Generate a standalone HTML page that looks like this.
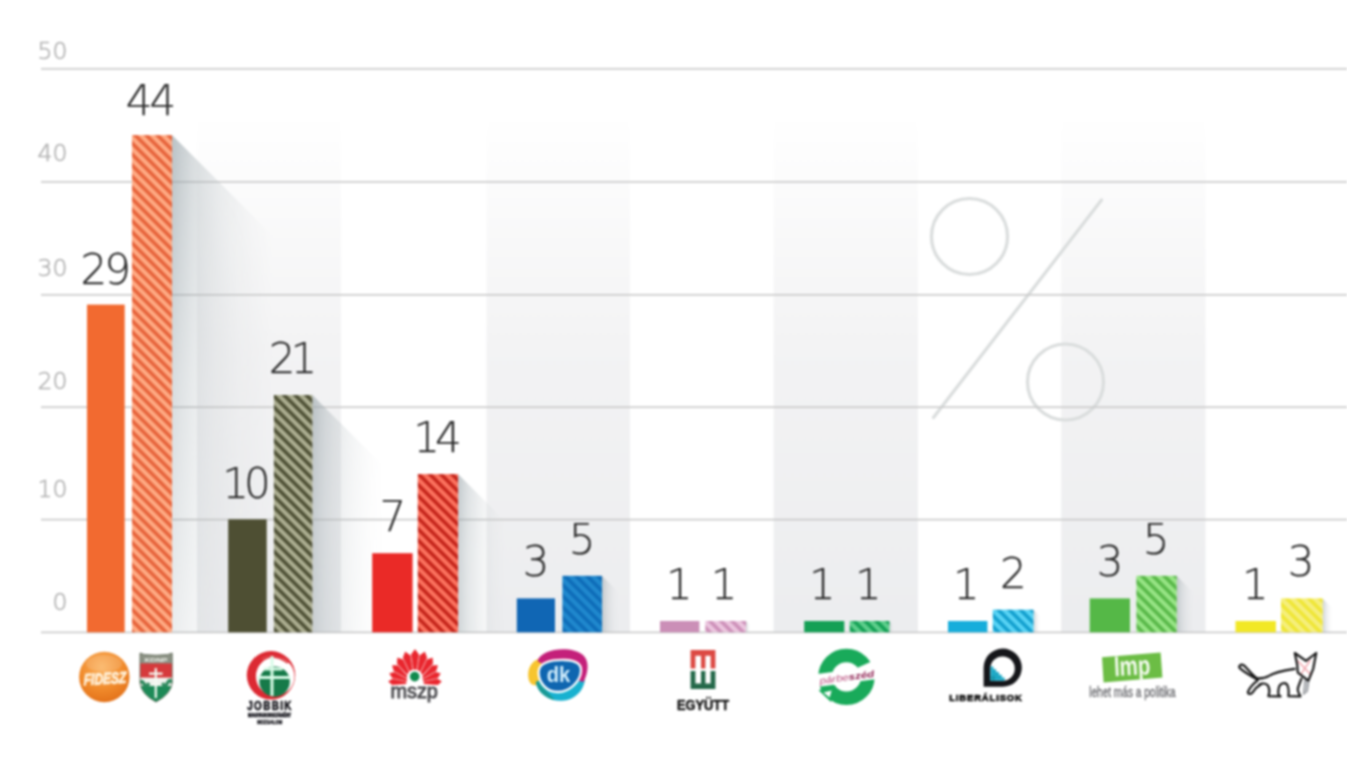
<!DOCTYPE html>
<html lang="hu"><head><meta charset="utf-8"><title>Pártok támogatottsága</title>
<style>
html,body{margin:0;padding:0;background:#fff;}
body{width:1347px;height:758px;overflow:hidden;font-family:"DejaVu Sans","Liberation Sans",sans-serif;}
svg{display:block}
#chart{width:1347px;height:758px;filter:blur(0.8px)}
.num{font-family:"DejaVu Sans Light","DejaVu Sans","Liberation Sans",sans-serif;font-weight:200;font-size:42px;fill:#2b2b2b;stroke:#2b2b2b;stroke-width:0.25px;text-anchor:middle}
.yl{font-family:"DejaVu Sans Light","DejaVu Sans","Liberation Sans",sans-serif;font-weight:200;font-size:23.5px;fill:#b2b2b2;stroke:#b2b2b2;stroke-width:0.5px;text-anchor:end}
</style></head><body>
<div id="chart">
<svg width="1347" height="758" viewBox="0 0 1347 758">
<defs>
<linearGradient id="band" x1="0" y1="0" x2="0" y2="1"><stop offset="0" stop-color="#ffffff"/><stop offset="0.45" stop-color="#f3f3f4"/><stop offset="1" stop-color="#ecedef"/></linearGradient>
<linearGradient id="sh" x1="0" y1="0" x2="1" y2="0"><stop offset="0" stop-color="#8d9da3" stop-opacity="0.75"/><stop offset="0.25" stop-color="#a9b4b9" stop-opacity="0.45"/><stop offset="1" stop-color="#c8cdd0" stop-opacity="0"/></linearGradient>

<pattern id="h-fidesz" width="11.1" height="11.1" patternUnits="userSpaceOnUse"><rect width="11.1" height="11.1" fill="#ffab84"/><path d="M-11.1,-33.3L22.2,0.0M-11.1,-22.2L22.2,11.1M-11.1,-11.1L22.2,22.2M-11.1,0.0L22.2,33.3M-11.1,11.1L22.2,44.4" stroke="#e6623a" stroke-width="3.7"/></pattern>
<pattern id="h-jobbik" width="11.1" height="11.1" patternUnits="userSpaceOnUse"><rect width="11.1" height="11.1" fill="#adaf92"/><path d="M-11.1,-33.3L22.2,0.0M-11.1,-22.2L22.2,11.1M-11.1,-11.1L22.2,22.2M-11.1,0.0L22.2,33.3M-11.1,11.1L22.2,44.4" stroke="#4e5035" stroke-width="3.7"/></pattern>
<pattern id="h-mszp" width="11.1" height="11.1" patternUnits="userSpaceOnUse"><rect width="11.1" height="11.1" fill="#fc735f"/><path d="M-11.1,-33.3L22.2,0.0M-11.1,-22.2L22.2,11.1M-11.1,-11.1L22.2,22.2M-11.1,0.0L22.2,33.3M-11.1,11.1L22.2,44.4" stroke="#c4241a" stroke-width="3.7"/></pattern>
<pattern id="h-dk" width="11.1" height="11.1" patternUnits="userSpaceOnUse"><rect width="11.1" height="11.1" fill="#2089ce"/><path d="M-11.1,-33.3L22.2,0.0M-11.1,-22.2L22.2,11.1M-11.1,-11.1L22.2,22.2M-11.1,0.0L22.2,33.3M-11.1,11.1L22.2,44.4" stroke="#0e6cb8" stroke-width="3.7"/></pattern>
<pattern id="h-egyutt" width="11.1" height="11.1" patternUnits="userSpaceOnUse"><rect width="11.1" height="11.1" fill="#ecc6df"/><path d="M-11.1,-33.3L22.2,0.0M-11.1,-22.2L22.2,11.1M-11.1,-11.1L22.2,22.2M-11.1,0.0L22.2,33.3M-11.1,11.1L22.2,44.4" stroke="#cd90b9" stroke-width="3.7"/></pattern>
<pattern id="h-parbeszed" width="11.1" height="11.1" patternUnits="userSpaceOnUse"><rect width="11.1" height="11.1" fill="#5fcf8d"/><path d="M-11.1,-33.3L22.2,0.0M-11.1,-22.2L22.2,11.1M-11.1,-11.1L22.2,22.2M-11.1,0.0L22.2,33.3M-11.1,11.1L22.2,44.4" stroke="#14a055" stroke-width="3.7"/></pattern>
<pattern id="h-lib" width="11.1" height="11.1" patternUnits="userSpaceOnUse"><rect width="11.1" height="11.1" fill="#59d4f5"/><path d="M-11.1,-33.3L22.2,0.0M-11.1,-22.2L22.2,11.1M-11.1,-11.1L22.2,22.2M-11.1,0.0L22.2,33.3M-11.1,11.1L22.2,44.4" stroke="#139fce" stroke-width="3.7"/></pattern>
<pattern id="h-lmp" width="11.1" height="11.1" patternUnits="userSpaceOnUse"><rect width="11.1" height="11.1" fill="#98e586"/><path d="M-11.1,-33.3L22.2,0.0M-11.1,-22.2L22.2,11.1M-11.1,-11.1L22.2,22.2M-11.1,0.0L22.2,33.3M-11.1,11.1L22.2,44.4" stroke="#58b748" stroke-width="3.7"/></pattern>
<pattern id="h-kutya" width="11.1" height="11.1" patternUnits="userSpaceOnUse"><rect width="11.1" height="11.1" fill="#f6ef7e"/><path d="M-11.1,-33.3L22.2,0.0M-11.1,-22.2L22.2,11.1M-11.1,-11.1L22.2,22.2M-11.1,0.0L22.2,33.3M-11.1,11.1L22.2,44.4" stroke="#efe636" stroke-width="3.7"/></pattern>
<linearGradient id="sh-fidesz" gradientUnits="userSpaceOnUse" x1="172" y1="0" x2="277.0" y2="0"><stop offset="0" stop-color="#8f9ca2" stop-opacity="0.62"/><stop offset="0.2" stop-color="#9da8ad" stop-opacity="0.41"/><stop offset="0.5" stop-color="#b0b8bc" stop-opacity="0.22"/><stop offset="0.8" stop-color="#c5cacd" stop-opacity="0.08"/><stop offset="1" stop-color="#d5d8da" stop-opacity="0"/></linearGradient>
<linearGradient id="vg-fidesz" gradientUnits="userSpaceOnUse" x1="0" y1="135.1" x2="0" y2="632.3"><stop offset="0" stop-color="#fff"/><stop offset="0.5" stop-color="#fff" stop-opacity="0.57"/><stop offset="1" stop-color="#fff" stop-opacity="0.30"/></linearGradient>
<mask id="mk-fidesz" maskUnits="userSpaceOnUse" x="171" y="134.1" width="107.0" height="499.2"><rect x="171" y="134.1" width="107.0" height="499.2" fill="url(#vg-fidesz)"/></mask>
<linearGradient id="sh-jobbik" gradientUnits="userSpaceOnUse" x1="312.4" y1="0" x2="383.6" y2="0"><stop offset="0" stop-color="#8f9ca2" stop-opacity="0.57"/><stop offset="0.2" stop-color="#9da8ad" stop-opacity="0.37"/><stop offset="0.5" stop-color="#b0b8bc" stop-opacity="0.20"/><stop offset="0.8" stop-color="#c5cacd" stop-opacity="0.07"/><stop offset="1" stop-color="#d5d8da" stop-opacity="0"/></linearGradient>
<linearGradient id="vg-jobbik" gradientUnits="userSpaceOnUse" x1="0" y1="395.0" x2="0" y2="632.3"><stop offset="0" stop-color="#fff"/><stop offset="0.5" stop-color="#fff" stop-opacity="0.75"/><stop offset="1" stop-color="#fff" stop-opacity="0.67"/></linearGradient>
<mask id="mk-jobbik" maskUnits="userSpaceOnUse" x="311.4" y="394.0" width="73.2" height="239.3"><rect x="311.4" y="394.0" width="73.2" height="239.3" fill="url(#vg-jobbik)"/></mask>
<linearGradient id="sh-mszp" gradientUnits="userSpaceOnUse" x1="458" y1="0" x2="505.5" y2="0"><stop offset="0" stop-color="#8f9ca2" stop-opacity="0.55"/><stop offset="0.2" stop-color="#9da8ad" stop-opacity="0.36"/><stop offset="0.5" stop-color="#b0b8bc" stop-opacity="0.20"/><stop offset="0.8" stop-color="#c5cacd" stop-opacity="0.07"/><stop offset="1" stop-color="#d5d8da" stop-opacity="0"/></linearGradient>
<linearGradient id="vg-mszp" gradientUnits="userSpaceOnUse" x1="0" y1="474.1" x2="0" y2="632.3"><stop offset="0" stop-color="#fff"/><stop offset="0.5" stop-color="#fff" stop-opacity="0.81"/><stop offset="1" stop-color="#fff" stop-opacity="0.78"/></linearGradient>
<mask id="mk-mszp" maskUnits="userSpaceOnUse" x="457" y="473.1" width="49.5" height="160.2"><rect x="457" y="473.1" width="49.5" height="160.2" fill="url(#vg-mszp)"/></mask>
<linearGradient id="sh-dk" gradientUnits="userSpaceOnUse" x1="602" y1="0" x2="619.0" y2="0"><stop offset="0" stop-color="#8f9ca2" stop-opacity="0.53"/><stop offset="0.2" stop-color="#9da8ad" stop-opacity="0.35"/><stop offset="0.5" stop-color="#b0b8bc" stop-opacity="0.19"/><stop offset="0.8" stop-color="#c5cacd" stop-opacity="0.07"/><stop offset="1" stop-color="#d5d8da" stop-opacity="0"/></linearGradient>
<linearGradient id="vg-dk" gradientUnits="userSpaceOnUse" x1="0" y1="575.8" x2="0" y2="632.3"><stop offset="0" stop-color="#fff"/><stop offset="0.5" stop-color="#fff" stop-opacity="0.88"/><stop offset="1" stop-color="#fff" stop-opacity="0.92"/></linearGradient>
<mask id="mk-dk" maskUnits="userSpaceOnUse" x="601" y="574.8" width="18.9" height="58.5"><rect x="601" y="574.8" width="18.9" height="58.5" fill="url(#vg-dk)"/></mask>
<linearGradient id="sh-egyutt" gradientUnits="userSpaceOnUse" x1="746" y1="0" x2="750.0" y2="0"><stop offset="0" stop-color="#8f9ca2" stop-opacity="0.52"/><stop offset="0.2" stop-color="#9da8ad" stop-opacity="0.34"/><stop offset="0.5" stop-color="#b0b8bc" stop-opacity="0.19"/><stop offset="0.8" stop-color="#c5cacd" stop-opacity="0.07"/><stop offset="1" stop-color="#d5d8da" stop-opacity="0"/></linearGradient>
<linearGradient id="vg-egyutt" gradientUnits="userSpaceOnUse" x1="0" y1="621.0" x2="0" y2="632.3"><stop offset="0" stop-color="#fff"/><stop offset="0.5" stop-color="#fff" stop-opacity="0.91"/><stop offset="1" stop-color="#fff" stop-opacity="0.98"/></linearGradient>
<mask id="mk-egyutt" maskUnits="userSpaceOnUse" x="745" y="620.0" width="6.0" height="13.3"><rect x="745" y="620.0" width="6.0" height="13.3" fill="url(#vg-egyutt)"/></mask>
<linearGradient id="sh-parbeszed" gradientUnits="userSpaceOnUse" x1="889.4" y1="0" x2="893.4" y2="0"><stop offset="0" stop-color="#8f9ca2" stop-opacity="0.52"/><stop offset="0.2" stop-color="#9da8ad" stop-opacity="0.34"/><stop offset="0.5" stop-color="#b0b8bc" stop-opacity="0.19"/><stop offset="0.8" stop-color="#c5cacd" stop-opacity="0.07"/><stop offset="1" stop-color="#d5d8da" stop-opacity="0"/></linearGradient>
<linearGradient id="vg-parbeszed" gradientUnits="userSpaceOnUse" x1="0" y1="621.0" x2="0" y2="632.3"><stop offset="0" stop-color="#fff"/><stop offset="0.5" stop-color="#fff" stop-opacity="0.91"/><stop offset="1" stop-color="#fff" stop-opacity="0.98"/></linearGradient>
<mask id="mk-parbeszed" maskUnits="userSpaceOnUse" x="888.4" y="620.0" width="6.0" height="13.3"><rect x="888.4" y="620.0" width="6.0" height="13.3" fill="url(#vg-parbeszed)"/></mask>
<linearGradient id="sh-lib" gradientUnits="userSpaceOnUse" x1="1033.5" y1="0" x2="1040.3" y2="0"><stop offset="0" stop-color="#8f9ca2" stop-opacity="0.52"/><stop offset="0.2" stop-color="#9da8ad" stop-opacity="0.35"/><stop offset="0.5" stop-color="#b0b8bc" stop-opacity="0.19"/><stop offset="0.8" stop-color="#c5cacd" stop-opacity="0.07"/><stop offset="1" stop-color="#d5d8da" stop-opacity="0"/></linearGradient>
<linearGradient id="vg-lib" gradientUnits="userSpaceOnUse" x1="0" y1="609.7" x2="0" y2="632.3"><stop offset="0" stop-color="#fff"/><stop offset="0.5" stop-color="#fff" stop-opacity="0.90"/><stop offset="1" stop-color="#fff" stop-opacity="0.97"/></linearGradient>
<mask id="mk-lib" maskUnits="userSpaceOnUse" x="1032.5" y="608.7" width="8.8" height="24.6"><rect x="1032.5" y="608.7" width="8.8" height="24.6" fill="url(#vg-lib)"/></mask>
<linearGradient id="sh-lmp" gradientUnits="userSpaceOnUse" x1="1176.7" y1="0" x2="1193.7" y2="0"><stop offset="0" stop-color="#8f9ca2" stop-opacity="0.53"/><stop offset="0.2" stop-color="#9da8ad" stop-opacity="0.35"/><stop offset="0.5" stop-color="#b0b8bc" stop-opacity="0.19"/><stop offset="0.8" stop-color="#c5cacd" stop-opacity="0.07"/><stop offset="1" stop-color="#d5d8da" stop-opacity="0"/></linearGradient>
<linearGradient id="vg-lmp" gradientUnits="userSpaceOnUse" x1="0" y1="575.8" x2="0" y2="632.3"><stop offset="0" stop-color="#fff"/><stop offset="0.5" stop-color="#fff" stop-opacity="0.88"/><stop offset="1" stop-color="#fff" stop-opacity="0.92"/></linearGradient>
<mask id="mk-lmp" maskUnits="userSpaceOnUse" x="1175.7" y="574.8" width="18.9" height="58.5"><rect x="1175.7" y="574.8" width="18.9" height="58.5" fill="url(#vg-lmp)"/></mask>
<linearGradient id="sh-kutya" gradientUnits="userSpaceOnUse" x1="1322.6" y1="0" x2="1332.8" y2="0"><stop offset="0" stop-color="#8f9ca2" stop-opacity="0.53"/><stop offset="0.2" stop-color="#9da8ad" stop-opacity="0.35"/><stop offset="0.5" stop-color="#b0b8bc" stop-opacity="0.19"/><stop offset="0.8" stop-color="#c5cacd" stop-opacity="0.07"/><stop offset="1" stop-color="#d5d8da" stop-opacity="0"/></linearGradient>
<linearGradient id="vg-kutya" gradientUnits="userSpaceOnUse" x1="0" y1="598.4" x2="0" y2="632.3"><stop offset="0" stop-color="#fff"/><stop offset="0.5" stop-color="#fff" stop-opacity="0.90"/><stop offset="1" stop-color="#fff" stop-opacity="0.95"/></linearGradient>
<mask id="mk-kutya" maskUnits="userSpaceOnUse" x="1321.6" y="597.4" width="12.2" height="35.9"><rect x="1321.6" y="597.4" width="12.2" height="35.9" fill="url(#vg-kutya)"/></mask>
</defs>
<rect width="1347" height="758" fill="#ffffff"/>
<rect x="197" y="117" width="144.0" height="515.3" fill="url(#band)"/>
<rect x="486.5" y="117" width="143.5" height="515.3" fill="url(#band)"/>
<rect x="773.6" y="117" width="144.4" height="515.3" fill="url(#band)"/>
<rect x="1061.2" y="117" width="144.3" height="515.3" fill="url(#band)"/>
<g fill="none" stroke="#dadddd" stroke-width="3.2"><circle cx="969.5" cy="236.5" r="38"/><circle cx="1065.5" cy="382" r="38"/><line x1="1101.5" y1="200" x2="933.5" y2="417.5" stroke-linecap="round"/></g>
<rect x="41" y="68.0" width="1306" height="1.6" fill="#c9c9c9"/>
<rect x="41" y="181.10000000000002" width="1306" height="1.6" fill="#c9c9c9"/>
<rect x="41" y="294.0" width="1306" height="1.6" fill="#c9c9c9"/>
<rect x="41" y="406.40000000000003" width="1306" height="1.6" fill="#c9c9c9"/>
<rect x="41" y="518.8" width="1306" height="1.6" fill="#c9c9c9"/>
<rect x="41" y="631.5999999999999" width="1306" height="1.6" fill="#c9c9c9"/>
<polygon points="172,135.1 277.0,240.1 277.0,632.3 172,632.3" fill="url(#sh-fidesz)" mask="url(#mk-fidesz)"/>
<polygon points="312.4,395.0 383.6,466.2 383.6,632.3 312.4,632.3" fill="url(#sh-jobbik)" mask="url(#mk-jobbik)"/>
<polygon points="458,474.1 505.5,521.6 505.5,632.3 458,632.3" fill="url(#sh-mszp)" mask="url(#mk-mszp)"/>
<polygon points="602,575.8 619.0,592.8 619.0,632.3 602,632.3" fill="url(#sh-dk)" mask="url(#mk-dk)"/>
<polygon points="746,621.0 750.0,625.0 750.0,632.3 746,632.3" fill="url(#sh-egyutt)" mask="url(#mk-egyutt)"/>
<polygon points="889.4,621.0 893.4,625.0 893.4,632.3 889.4,632.3" fill="url(#sh-parbeszed)" mask="url(#mk-parbeszed)"/>
<polygon points="1033.5,609.7 1040.3,616.5 1040.3,632.3 1033.5,632.3" fill="url(#sh-lib)" mask="url(#mk-lib)"/>
<polygon points="1176.7,575.8 1193.7,592.8 1193.7,632.3 1176.7,632.3" fill="url(#sh-lmp)" mask="url(#mk-lmp)"/>
<polygon points="1322.6,598.4 1332.8,608.6 1332.8,632.3 1322.6,632.3" fill="url(#sh-kutya)" mask="url(#mk-kutya)"/>
<rect x="87" y="304.6" width="37.7" height="327.7" fill="#f26a30"/>
<rect x="132" y="135.1" width="40.0" height="497.2" fill="url(#h-fidesz)"/>
<rect x="228.2" y="519.3" width="38.5" height="113.0" fill="#4e4f33"/>
<rect x="273.9" y="395.0" width="38.5" height="237.3" fill="url(#h-jobbik)"/>
<rect x="372.2" y="553.2" width="40.4" height="79.1" fill="#ea2a27"/>
<rect x="417.8" y="474.1" width="40.2" height="158.2" fill="url(#h-mszp)"/>
<rect x="516.8" y="598.4" width="38.2" height="33.9" fill="#1066b4"/>
<rect x="562.4" y="575.8" width="39.6" height="56.5" fill="url(#h-dk)"/>
<rect x="660" y="621.0" width="39.4" height="11.3" fill="#cb8fb7"/>
<rect x="705.3" y="621.0" width="40.7" height="11.3" fill="url(#h-egyutt)"/>
<rect x="804.2" y="621.0" width="40.1" height="11.3" fill="#14a055"/>
<rect x="849.7" y="621.0" width="39.7" height="11.3" fill="url(#h-parbeszed)"/>
<rect x="948" y="621.0" width="39.4" height="11.3" fill="#16addb"/>
<rect x="992.8" y="609.7" width="40.7" height="22.6" fill="url(#h-lib)"/>
<rect x="1089.7" y="598.4" width="40.3" height="33.9" fill="#55b847"/>
<rect x="1136.4" y="575.8" width="40.3" height="56.5" fill="url(#h-lmp)"/>
<rect x="1235.5" y="621.0" width="40.4" height="11.3" fill="#f2e826"/>
<rect x="1281" y="598.4" width="41.6" height="33.9" fill="url(#h-kutya)"/>
<text class="num" letter-spacing="-3" x="104.2" y="284">29</text>
<text class="num" letter-spacing="-3" x="149.5" y="115">44</text>
<text class="num" letter-spacing="-5" x="244.1" y="498">10</text>
<text class="num" letter-spacing="-5" x="290.5" y="373">21</text>
<text class="num" x="392.8" y="531">7</text>
<text class="num" letter-spacing="-5" x="435.1" y="452">14</text>
<text class="num" x="536" y="576.3">3</text>
<text class="num" x="582" y="554">5</text>
<text class="num" x="679.4" y="599.4">1</text>
<text class="num" x="724.2" y="599.4">1</text>
<text class="num" x="822.3" y="599.4">1</text>
<text class="num" x="868.3" y="599.4">1</text>
<text class="num" x="966.4" y="599.4">1</text>
<text class="num" x="1013.3" y="588.4">2</text>
<text class="num" x="1110" y="576.3">3</text>
<text class="num" x="1156.2" y="554.2">5</text>
<text class="num" x="1255.4" y="599.2">1</text>
<text class="num" x="1301" y="576.3">3</text>
<text class="yl" x="67.5" y="59">50</text>
<text class="yl" x="67.5" y="161">40</text>
<text class="yl" x="67.5" y="276">30</text>
<text class="yl" x="67.5" y="389">20</text>
<text class="yl" x="67.5" y="497">10</text>
<text class="yl" x="67.5" y="609.5">0</text>
<defs>
<radialGradient id="fid" cx="0.45" cy="0.3" r="0.8"><stop offset="0" stop-color="#fbb15c"/><stop offset="0.55" stop-color="#f08a2b"/><stop offset="1" stop-color="#df6a14"/></radialGradient>
<clipPath id="kd"><path d="M140,653 L144.500,654.600 L156,655.200 L167.500,654.600 L172.200,653 L172.200,683 Q171,694 156,702 Q141,694 140,683 Z"/></clipPath>
<clipPath id="jbc"><circle cx="270.5" cy="676" r="24.5"/></clipPath>
</defs>
<!-- FIDESZ -->
<g id="logo-fidesz">
<circle cx="104.3" cy="677" r="25.2" fill="url(#fid)"/>
<ellipse cx="104" cy="663.5" rx="18" ry="8.5" fill="#ffffff" opacity="0.14"/>
<text transform="translate(105,684) rotate(-3.5) skewX(-3)" text-anchor="middle" font-family="'Liberation Sans',sans-serif" font-weight="bold" font-style="italic" font-size="16" fill="#fff0d8" stroke="#fff0d8" stroke-width="0.9" textLength="42.5" lengthAdjust="spacingAndGlyphs">FIDESZ</text>
</g>
<!-- KDNP -->
<g id="logo-kdnp">
<g clip-path="url(#kd)">
<rect x="139" y="652" width="34" height="12" fill="#8b9184"/>
<rect x="139" y="663.4" width="34" height="15" fill="#d63a3c"/>
<rect x="139" y="677.6" width="34" height="9" fill="#f2f4ef"/>
<rect x="139" y="686" width="34" height="17" fill="#1d8a57"/>
<path d="M139,684 q2.5,-5 5,0 q2.500,4 5,-1 M162.500,683 q2.500,5 5,0 q2.500,-5 5,0" stroke="#2f8a5e" stroke-width="3.4" fill="none"/>
</g>
<path d="M140,653 L144.500,654.600 L156,655.200 L167.500,654.600 L172.200,653 L172.200,683 Q171,694 156,702 Q141,694 140,683 Z" fill="none" stroke="#66705f" stroke-width="0.9"/>
<path d="M155.800,668 V698 M149,673.700 H162.600" stroke="#f6fbf4" stroke-width="2.2" fill="none"/>
<text x="156" y="661.6" text-anchor="middle" font-family="'Liberation Sans',sans-serif" font-weight="bold" font-size="6.2" fill="#eef0e8" textLength="23" lengthAdjust="spacingAndGlyphs">KDNP</text>
</g>
<!-- JOBBIK -->
<g id="logo-jobbik">
<circle cx="271" cy="675.3" r="24.2" fill="#dc2a33"/>
<circle cx="275.2" cy="676.4" r="19.3" fill="#ffffff"/>
<path d="M262,659 Q275,653 288,663" stroke="#e0474d" stroke-width="2.2" fill="none"/>
<circle cx="274.6" cy="681.6" r="15.2" fill="#167a49"/>
<path d="M272,656 V696 M264,669 H282.5 M257.5,677.5 H290.5" stroke="#d9fbe8" stroke-width="3" fill="none"/>
<text transform="translate(270,710.2) scale(0.8,1)" text-anchor="middle" font-family="'Liberation Sans',sans-serif" font-weight="bold" font-size="12.4" letter-spacing="1.7" fill="#16161c" stroke="#16161c" stroke-width="0.6">JOBBIK</text>
<text x="269.6" y="716.7" text-anchor="middle" font-family="'Liberation Sans',sans-serif" font-weight="bold" font-size="4.8" fill="#26262c" stroke="#26262c" stroke-width="0.7" textLength="43" lengthAdjust="spacingAndGlyphs">MAGYARORSZÁGÉRT</text>
<text x="269.8" y="723.6" text-anchor="middle" font-family="'Liberation Sans',sans-serif" font-weight="bold" font-size="5.4" fill="#26262c" stroke="#26262c" stroke-width="0.5" textLength="25" lengthAdjust="spacingAndGlyphs">MOZGALOM</text>
</g>
<!-- MSZP -->
<g id="logo-mszp">
<g fill="#e9262e" stroke="#e9262e" stroke-width="0.6" stroke-linejoin="round" transform="translate(0,-1.2)">
<path d="M424.0,684.9 L437.8,685.9 L441.4,682.7 L437.3,680.1 L423.9,683.3 Z"/>
<path d="M423.6,682.2 L437.7,679.0 L440.3,674.8 L435.5,673.4 L423.0,680.7 Z"/>
<path d="M422.5,679.8 L436.1,671.9 L437.5,666.8 L432.2,667.0 L421.5,678.6 Z"/>
<path d="M420.7,677.8 L432.7,664.9 L432.4,659.2 L427.0,661.0 L419.4,676.9 Z"/>
<path d="M418.4,676.5 L426.8,658.9 L424.7,653.2 L419.8,656.8 L416.9,676.0 Z"/>
<path d="M415.8,675.8 L418.7,655.8 L415.0,650.8 L411.3,655.8 L414.2,675.8 Z"/>
<path d="M413.1,676.0 L410.2,656.8 L405.3,653.2 L403.2,658.9 L411.6,676.5 Z"/>
<path d="M410.6,676.9 L403.0,661.0 L397.6,659.2 L397.3,664.9 L409.3,677.8 Z"/>
<path d="M408.5,678.6 L397.8,667.0 L392.5,666.8 L393.9,671.9 L407.5,679.8 Z"/>
<path d="M407.0,680.7 L394.5,673.4 L389.7,674.8 L392.3,679.0 L406.4,682.2 Z"/>
<path d="M406.1,683.3 L392.7,680.1 L388.6,682.7 L392.2,685.9 L406.0,684.9 Z"/>
</g>
<circle cx="414.7" cy="677.4" r="8" fill="#ffffff"/>
<circle cx="414.7" cy="676.6" r="4.8" fill="#118a4e"/>
<text x="414.2" y="698.2" text-anchor="middle" font-family="'Liberation Sans',sans-serif" font-size="19.6" fill="#4c4c50" stroke="#4c4c50" stroke-width="0.9" textLength="47.5" lengthAdjust="spacingAndGlyphs">mszp</text>
</g>
<!-- DK -->
<g id="logo-dk">
<path d="M539.500,658.500 C530,661.500 526.500,671 528.800,680 C530.500,685 534.500,686 538.500,685 L556,676 Z" fill="#f7c52f"/>
<path d="M535.800,682 C538,694 550,701.500 562,700.800 C574,700 583,692 585,680 L560,672 Z" fill="#18b1d0"/>
<path d="M535.800,682 C537,691 545,698 555,700.300 C549,693 543,688 538,681 Z" fill="#1a9a95"/>
<path d="M537.500,661 C541,648 572,645.500 583,655 C589.500,661 588.500,672 583.500,682 L560,676 Z" fill="#c4207a"/>
<path d="M538.600,672 C538.600,662 552,659.600 565,660 C576,660.400 581.600,664 581,671 C580.400,681 570,692 558,692 C546.500,692 538.600,683 538.600,672 Z" fill="#0f66b0" stroke="#ffffff" stroke-width="2.300"/>
<text x="558.5" y="681.6" text-anchor="middle" font-family="'Liberation Sans',sans-serif" font-weight="bold" font-size="22.6" fill="#d4effd" textLength="23.5" lengthAdjust="spacingAndGlyphs">dk</text>
</g>
<!-- EGYUTT -->
<g id="logo-egyutt">
<path d="M690.6,650 H715.4 V668.6 H710.6 V655.8 H705.4 V668.6 H701 V655.8 H695.4 V668.6 H690.6 Z" fill="#dc4a44"/>
<path d="M690.6,689 H715.4 V671 H710.6 V683.4 H705.4 V671 H701 V683.4 H695.4 V671 H690.6 Z" fill="#24694a"/>
<text x="703" y="710" text-anchor="middle" font-family="'Liberation Sans',sans-serif" font-weight="bold" font-size="14" fill="#151515" stroke="#151515" stroke-width="0.5" textLength="52" lengthAdjust="spacingAndGlyphs">EGYÜTT</text>
</g>
<!-- PARBESZED -->
<g id="logo-parbeszed">
<circle cx="846.4" cy="676.9" r="21.4" fill="none" stroke="#19aa5a" stroke-width="13.6"/>
<path d="M818.6,690.2 L836,685.8 L831,702 Z" fill="#19aa5a"/>
<rect x="814" y="670.2" width="66" height="12.8" fill="#ffffff" transform="rotate(-7.5 846.4 676.9)"/>
<path d="M858,667.6 L871.5,661.5 L878,672 L860,675 Z" fill="#ffffff"/>
<path d="M823.5,692.5 L831.6,690.6 L829.6,697.4 Z" fill="#ffffff"/>
<text transform="translate(847.2,680.4) rotate(-7.5)" text-anchor="middle" font-family="'Liberation Sans',sans-serif" font-style="italic" font-size="9.2" fill="#b8497a" textLength="55" lengthAdjust="spacingAndGlyphs">párbe<tspan font-weight="bold" fill="#8d1f50">széd</tspan></text>
</g>
<!-- LIBERALISOK -->
<g id="logo-lib">
<path d="M983.6,686.8 V668 A19.1,19.1 0 1 1 1002.7,686.8 Z" fill="#15161a"/>
<path d="M990.4,680.8 V668.4 A12.2,12.2 0 1 1 1002.6,680.8 Z" fill="#ffffff"/>
<path d="M990.4,666.4 H993.4 V669.2 H996.2 V672 H999 V674.8 H1001.8 V677.6 H1004.6 V680.8 H990.4 Z" fill="#1fa9c6"/>
<path d="M990.4,676 H995 V680.8 H990.4 Z" fill="#138a9c" opacity="0.6"/>
<text x="985.5" y="701.1" text-anchor="middle" font-family="'Liberation Sans',sans-serif" font-weight="bold" font-size="9.4" fill="#141414" stroke="#141414" stroke-width="0.7" textLength="72.5" lengthAdjust="spacing">LIBERÁLISOK</text>
</g>
<!-- LMP -->
<g id="logo-lmp">
<path d="M1102,657.2 L1160.6,652.6 L1162.4,677.4 L1103.6,682.4 Z" fill="#6cbd45"/>
<text transform="translate(1132.6,675.2) rotate(-3) scale(0.76,1)" text-anchor="middle" font-family="'Liberation Sans',sans-serif" font-weight="bold" font-size="27" fill="#f4fbef">lmp</text>
<text x="1132.4" y="696.6" text-anchor="middle" font-family="'Liberation Sans',sans-serif" font-size="14.2" fill="#707175" stroke="#707175" stroke-width="0.4" textLength="86.5" lengthAdjust="spacingAndGlyphs">lehet más a politika</text>
</g>
<!-- KUTYA -->
<g id="logo-kutya" fill="none" stroke="#171717" stroke-width="2.2" stroke-linecap="round" stroke-linejoin="round">
<path d="M1305.2,680 L1309,680.6 L1307.4,691.6 L1303.6,694.4 Z" fill="#b9bcc0" stroke="#8d9094" stroke-width="1"/>
<path d="M1298,661 L1311,675" stroke="#f0a9b0" stroke-width="1.6"/>
<path d="M1310,660.6 L1300.6,674.6" stroke="#f0a9b0" stroke-width="1.6"/>
<path d="M1257.2,679.6 C1250,675.6 1243,671 1239.8,668.2 C1238.2,665.8 1240.8,663.8 1243.6,665.2 C1248,669 1252,675 1258,679.2"/>
<path d="M1257.6,680.4 C1253,684 1249.6,688 1248,691.6 C1247.6,694.2 1250.4,694.8 1252.2,692.8 C1254.6,689 1258,686 1261.6,683.8"/>
<path d="M1257,678.4 C1261,678.6 1265.6,678 1269,675.8 C1274,672.4 1283,670.6 1294.6,668.8"/>
<path d="M1259.4,684.6 C1262,683 1266,683 1267.8,685.4 C1269.8,688.6 1269.6,692.6 1268.4,696.2 L1280.6,696.4 C1277.6,696 1278,691 1279,687 C1280.4,682.6 1286,681.8 1287.6,685.6 C1289,689 1288.8,693 1288.4,696.2 L1300.4,696.4 C1298,692 1297,690 1298.6,686 L1301.4,678.6"/>
<path d="M1294.8,653 L1306,660.8 L1316.2,653 L1313.2,668.8 L1308.4,680.6 L1297.8,672.6 L1297.2,664.8 Z"/>
</g>

</svg>
</div></body></html>
